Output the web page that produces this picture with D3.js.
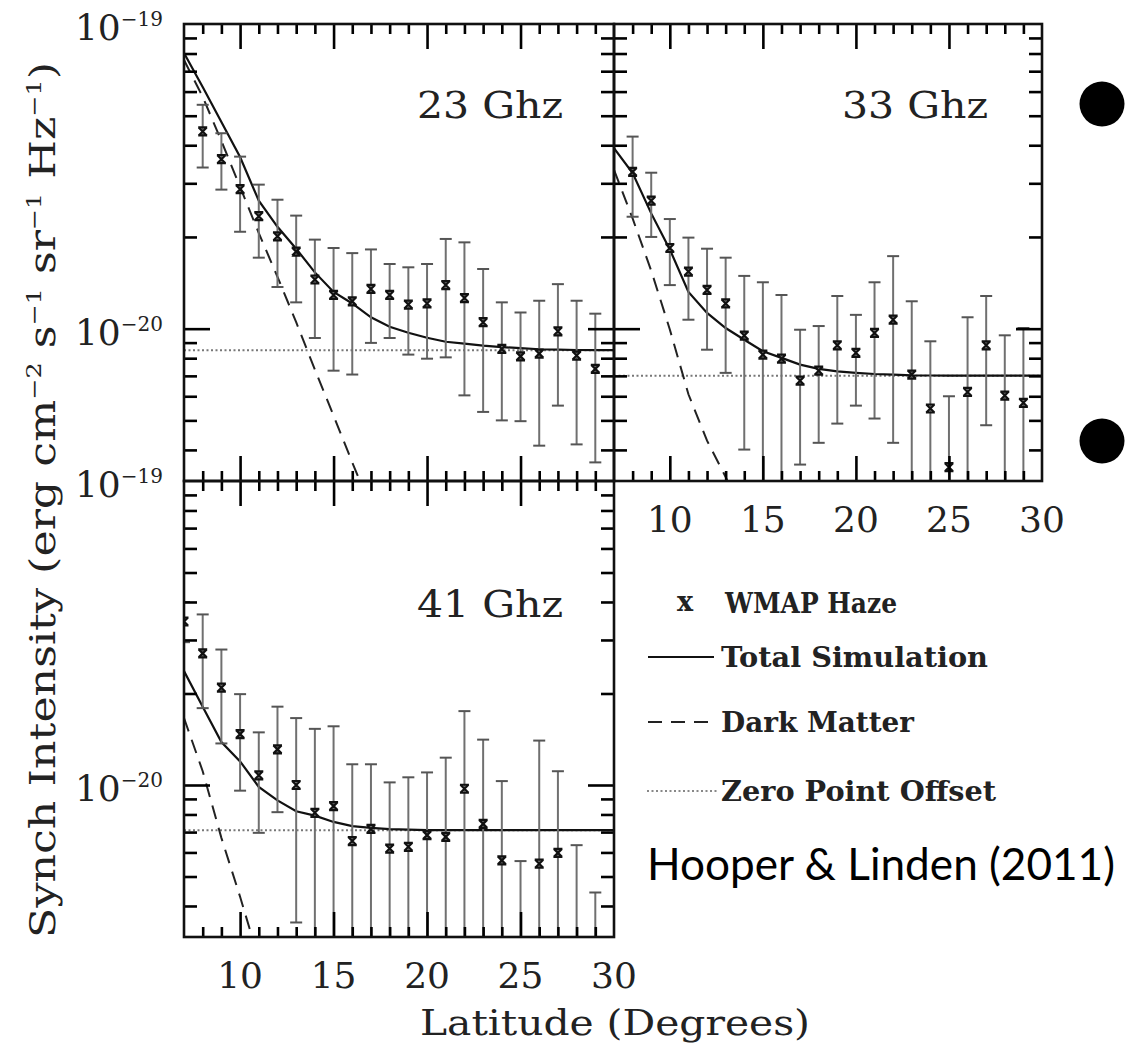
<!DOCTYPE html>
<html><head><meta charset="utf-8">
<script src="https://cdn.jsdelivr.net/npm/d3@7"></script>
<style>body{margin:0;background:#fff}svg{display:block}</style>
</head><body>
<svg id="chart" width="1129" height="1054"></svg>
<script>
// values are in units of 1e-20 erg cm^-2 s^-1 sr^-1 Hz^-1
const latHaze   = [8,9,10,11,12,13,14,15,16,17,18,19,20,21,22,23,24,25,26,27,28,29];
const latHaze41 = [7,8,9,10,11,12,13,14,15,16,17,18,19,20,21,22,23,24,25,26,27,28,29];
const latSim    = [7,8,9,10,11,12,13,14,15,16,17,18,19,20,21,22,23,24,25,26,27,28,29,30];

const haze23 = [4.44,3.60,2.87,2.34,2.01,1.79,1.45,1.29,1.23,1.35,1.29,1.20,1.21,1.39,1.26,1.05,0.858,0.811,0.828,0.98,0.816,0.738];
const hi23   = [5.43,4.38,3.67,2.97,2.65,2.35,1.96,1.84,1.77,1.82,1.63,1.59,1.63,1.97,1.92,1.57,1.22,1.13,1.235,1.40,1.235,1.12];
const lo23   = [3.38,2.86,2.08,1.71,1.37,1.22,0.932,0.728,0.707,0.898,0.932,0.822,0.797,0.805,0.604,0.533,0.500,0.497,0.413,0.559,0.417,0.364];

const haze33 = [3.27,2.63,1.84,1.54,1.34,1.21,0.949,0.822,0.797,0.675,0.728,0.882,0.833,0.968,1.07,0.707,0.547,0.351,0.620,0.882,0.603,0.571];
const hi33   = [4.27,3.25,2.29,1.99,1.83,1.71,1.49,1.42,1.29,0.992,1.02,1.28,1.11,1.42,1.73,1.23,0.909,0.600,1.09,1.28,0.951,1.005];
const lo33   = [2.33,2.00,1.39,1.07,0.853,0.716,0.401,null,null,0.358,0.422,0.488,0.559,0.507,0.422,null,null,null,null,0.482,null,null];

const haze41 = [3.45,2.71,2.09,1.47,1.076,1.31,1.0,0.810,0.852,0.654,0.717,0.618,0.626,0.684,0.675,0.972,0.745,0.565,null,0.551,0.598,null,null];
const hi41   = [4.0,3.64,2.79,1.99,1.49,1.81,1.66,1.53,1.56,1.17,1.17,1.02,1.06,1.10,1.23,1.75,1.41,1.03,0.562,1.40,1.11,0.634,0.443];
const lo41   = [2.95,1.79,1.37,0.958,0.696,0.814,0.353,null,null,null,null,null,null,null,null,null,null,null,null,null,null,null,null];

const total23 = [8.03,6.21,4.77,3.66,2.63,2.16,1.83,1.53,1.32,1.21,1.09,1.015,0.970,0.934,0.906,0.893,0.880,0.870,0.863,0.856,0.853,0.851,0.850,0.850];
const total33 = [3.91,3.24,2.39,1.82,1.32,1.126,1.005,0.920,0.843,0.802,0.762,0.738,0.724,0.716,0.710,0.707,0.703,0.702,0.701,0.701,0.701,0.701,0.701,0.701];
const total41 = [2.37,1.81,1.385,1.196,0.985,0.89,0.82,0.793,0.756,0.732,0.723,0.716,0.713,0.711,0.71,0.71,0.71,0.71,0.71,0.71,0.71,0.71,0.71,0.71];

const latDM23 = [7,8,9,10,11,12,13,14,15,16,17];
const dm23    = [7.62,5.77,4.13,2.92,2.06,1.48,1.05,0.734,0.518,0.364,0.257];
const latDM33 = [7,8,9,10,11,12,13,14];
const dm33    = [3.32,2.30,1.55,0.994,0.609,0.429,0.326,0.237];
const latDM41 = [7,8,9,10,11];
const dm41    = [1.66,1.11,0.67,0.429,0.267];

const offset23 = 0.85, offset33 = 0.701, offset41 = 0.71;

const panelNames = ["23 Ghz","33 Ghz","41 Ghz"];
const xTickMajor = [10,15,20,25];
const xTickMinor = [8,9,11,12,13,14,16,17,18,19,21,22,23,24,26,27,28,29];
const xTickLabels = [10,15,20,25,30];
const yTickMajor = [1];
const yTickMinor = [0.4,0.5,0.6,0.7,0.8,0.9,2,3,4,5,6,7,8,9];
const yLabelVals = [10,1];
const yLabelExps = ["\u221219","\u221220"];
const legendNames = ["WMAP Haze","Total Simulation","Dark Matter","Zero Point Offset"];
const yTitle = ["Synch Intensity (erg cm","\u22122"," s","\u22121"," sr","\u22121"," Hz","\u22121",")"];

const svg = d3.select("#chart");
const FONT = "DejaVu Serif";

const panels = [
  {name:panelNames[0], x0:184, x1:614, y0:24,  y1:481, lat:latHaze,   v:haze23, hi:hi23, lo:lo23, tot:total23, dmLat:latDM23, dm:dm23, off:offset23, lx:563, ly:118, xlab:false, ylab:true},
  {name:panelNames[1], x0:614, x1:1042,y0:24,  y1:481, lat:latHaze,   v:haze33, hi:hi33, lo:lo33, tot:total33, dmLat:latDM33, dm:dm33, off:offset33, lx:988, ly:118, xlab:true,  ylab:false},
  {name:panelNames[2], x0:184, x1:614, y0:481, y1:937, lat:latHaze41, v:haze41, hi:hi41, lo:lo41, tot:total41, dmLat:latDM41, dm:dm41, off:offset41, lx:563, ly:617, xlab:true,  ylab:true}
];

function styleAxis(g) {
  g.select(".domain").remove();
  g.selectAll(".tick line").attr("stroke","#000").attr("stroke-width",2.6);
  g.selectAll(".tick text").remove();
}

panels.forEach((p, pi) => {
  const x = d3.scaleLinear().domain([7,30]).range([p.x0,p.x1]);
  const y = d3.scaleLog().domain([Math.pow(10,-0.5),10]).range([p.y1,p.y0]);
  const H = p.y1 - p.y0, W = p.x1 - p.x0;
  const clipId = "clip"+pi;
  svg.append("clipPath").attr("id",clipId).append("rect")
    .attr("x",p.x0).attr("y",p.y0).attr("width",W).attr("height",H);
  const g = svg.append("g").attr("clip-path",`url(#${clipId})`);

  // zero point offset
  g.append("line").attr("x1",x(7)).attr("x2",x(30)).attr("y1",y(p.off)).attr("y2",y(p.off))
    .attr("stroke","#777").attr("stroke-width",2).attr("stroke-dasharray","2,2.5");
  const line = d3.line().x(d=>x(d[0])).y(d=>y(d[1]));
  // dark matter
  g.append("path").attr("d",line(p.dmLat.map((l,i)=>[l,p.dm[i]])))
    .attr("fill","none").attr("stroke","#222").attr("stroke-width",2).attr("stroke-dasharray","14,9");
  // total simulation
  g.append("path").attr("d",line(latSim.map((l,i)=>[l,p.tot[i]])))
    .attr("fill","none").attr("stroke","#111").attr("stroke-width",2.2);
  // error bars
  const yBottom = p.y1 + 5;
  p.lat.forEach((l,i) => {
    const xx = x(l);
    const yt = y(p.hi[i]);
    const yb = p.lo[i] == null ? yBottom : y(p.lo[i]);
    g.append("line").attr("x1",xx).attr("x2",xx).attr("y1",yt).attr("y2",yb)
      .attr("stroke","#707070").attr("stroke-width",2);
    g.append("line").attr("x1",xx-6).attr("x2",xx+6).attr("y1",yt).attr("y2",yt)
      .attr("stroke","#555").attr("stroke-width",2);
    if (p.lo[i] != null)
      g.append("line").attr("x1",xx-6).attr("x2",xx+6).attr("y1",yb).attr("y2",yb)
        .attr("stroke","#555").attr("stroke-width",2);
    if (p.v[i] != null) {
      const yy = y(p.v[i]);
      g.append("path").attr("d",`M${xx-4},${yy-4}L${xx+4},${yy+4}M${xx-4},${yy+4}L${xx+4},${yy-4}M${xx-4.5},${yy-4}H${xx+4.5}M${xx-4.5},${yy+4}H${xx+4.5}`)
        .attr("stroke","#111").attr("stroke-width",2.2).attr("fill","none");
    }
  });

  // ticks on all four sides, pointing inward
  const axes = svg.append("g");
  [[xTickMinor,10],[xTickMajor,25]].forEach(([vals,len]) => {
    axes.append("g").attr("transform",`translate(0,${p.y0})`)
      .call(d3.axisTop(x).tickValues(vals).tickSizeInner(-len).tickSizeOuter(0)).call(styleAxis);
    axes.append("g").attr("transform",`translate(0,${p.y1})`)
      .call(d3.axisBottom(x).tickValues(vals).tickSizeInner(-len).tickSizeOuter(0)).call(styleAxis);
  });
  [[yTickMinor,13],[yTickMajor,26]].forEach(([vals,len]) => {
    axes.append("g").attr("transform",`translate(${p.x0},0)`)
      .call(d3.axisLeft(y).tickValues(vals).tickSizeInner(-len).tickSizeOuter(0)).call(styleAxis);
    axes.append("g").attr("transform",`translate(${p.x1},0)`)
      .call(d3.axisRight(y).tickValues(vals).tickSizeInner(-len).tickSizeOuter(0)).call(styleAxis);
  });

  // frame
  svg.append("rect").attr("x",p.x0).attr("y",p.y0).attr("width",W).attr("height",H)
    .attr("fill","none").attr("stroke","#111").attr("stroke-width",2.6);

  // panel label
  svg.append("text").attr("x",p.lx).attr("y",p.ly).attr("text-anchor","end")
    .attr("font-family",FONT).attr("font-size",38).attr("fill","#222")
    .attr("textLength",146).attr("lengthAdjust","spacingAndGlyphs").text(p.name);

  // x tick labels
  if (p.xlab) {
    const base = p.y1 + 51;
    xTickLabels.forEach(v => {
      svg.append("text").attr("x",x(v)).attr("y",base).attr("text-anchor","middle")
        .attr("font-family",FONT).attr("font-size",36).attr("fill","#222").text(v);
    });
  }
  // y tick labels
  if (p.ylab) {
    yLabelVals.forEach((v,i) => {
      const t = svg.append("text").attr("x",163).attr("y",y(v)+16).attr("text-anchor","end")
        .attr("font-family",FONT).attr("font-size",36).attr("fill","#222");
      t.append("tspan").text("10");
      t.append("tspan").attr("font-size",20).attr("dy",-14).text(yLabelExps[i]);
    });
  }
});

// y axis title
const yt = svg.append("text").attr("transform","translate(55,938) rotate(-90)")
  .attr("text-anchor","start").attr("font-family",FONT).attr("font-size",35).attr("fill","#222")
  .attr("textLength",876).attr("lengthAdjust","spacingAndGlyphs");
yTitle.forEach((s,i) => {
  const sup = i % 2 === 1 && i < 8;
  yt.append("tspan").attr("font-family",FONT).attr("font-size", sup ? 20 : 35)
    .attr("dy", sup ? -14 : (i>0 ? 14 : 0)).text(s);
});

// x axis title
svg.append("text").attr("x",615).attr("y",1035).attr("text-anchor","middle")
  .attr("font-family",FONT).attr("font-size",36).attr("fill","#222")
  .attr("textLength",390).attr("lengthAdjust","spacingAndGlyphs").text("Latitude (Degrees)");

// legend
const legY = [603,657,722,791];
const legW = [172,267,193,275];
svg.append("text").attr("x",685).attr("y",legY[0]+8).attr("text-anchor","middle")
  .attr("font-family",FONT).attr("font-size",27).attr("font-weight","bold").attr("fill","#222").text("x");
svg.append("line").attr("x1",648).attr("x2",714).attr("y1",legY[1]).attr("y2",legY[1])
  .attr("stroke","#111").attr("stroke-width",2);
svg.append("line").attr("x1",648).attr("x2",714).attr("y1",legY[2]).attr("y2",legY[2])
  .attr("stroke","#222").attr("stroke-width",2).attr("stroke-dasharray","14,9");
svg.append("line").attr("x1",647).attr("x2",718).attr("y1",legY[3]).attr("y2",legY[3])
  .attr("stroke","#888").attr("stroke-width",2).attr("stroke-dasharray","2,2.5");
legendNames.forEach((n,i) => {
  svg.append("text").attr("x", i===0 ? 725 : 721).attr("y",legY[i]+10)
    .attr("font-family",FONT).attr("font-size",27).attr("font-weight","bold").attr("fill","#222")
    .attr("textLength",legW[i]).attr("lengthAdjust","spacingAndGlyphs").text(n);
});

// citation
svg.append("text").attr("x",647).attr("y",880).attr("font-family","Lato").attr("font-size",44)
  .attr("fill","#000").attr("textLength",468).attr("lengthAdjust","spacingAndGlyphs").text("Hooper & Linden (2011)");

// slide bullets
[104,441].forEach(cy => svg.append("circle").attr("cx",1102).attr("cy",cy).attr("r",22.5).attr("fill","#000"));
</script>
</body></html>
